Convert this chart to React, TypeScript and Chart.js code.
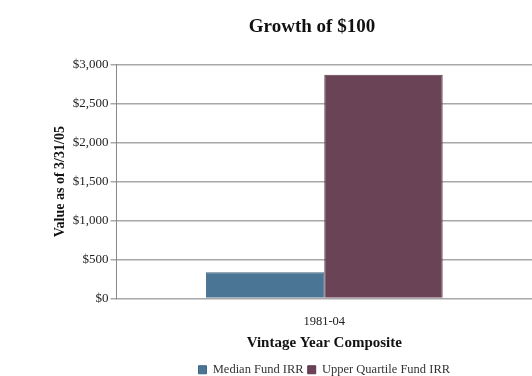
import React, { useEffect, useRef } from "react";
import { Chart, registerables } from "chart.js";

Chart.register(...registerables);

const categories = ["1981-04"];
const seriesNames = ["Median Fund IRR", "Upper Quartile Fund IRR"];
const medianValues = [337];
const upperQuartileValues = [2872];
const yTicks = [0, 500, 1000, 1500, 2000, 2500, 3000];

const FONT = "'Liberation Serif', 'DejaVu Serif', serif";

const titleShift = {
  id: "titleShift",
  afterLayout(chart: any) {
    const t = chart.titleBlock;
    if (t) t.left += 36;
  },
};

export default function App() {
  const ref = useRef<HTMLCanvasElement | null>(null);
  useEffect(() => {
    if (!ref.current) return;
    const chart = new Chart(ref.current, {
      type: "bar",
      data: {
        labels: categories,
        datasets: [
          {
            label: seriesNames[0],
            data: medianValues,
            backgroundColor: "#4b7595",
            borderColor: "#3f6582",
            borderWidth: 1,
          },
          {
            label: seriesNames[1],
            data: upperQuartileValues,
            backgroundColor: "#6b4357",
            borderColor: "#5c384a",
            borderWidth: 1,
          },
        ],
      },
      plugins: [titleShift],
      options: {
        responsive: false,
        animation: false,
        layout: { padding: { left: 52, right: -4, top: 10, bottom: -10 } },
        datasets: {
          bar: { categoryPercentage: 0.57, barPercentage: 1 },
        },
        plugins: {
          title: {
            display: true,
            text: "Growth of $100",
            color: "#111",
            font: { family: FONT, size: 19, weight: "bold" },
            padding: { top: 6, bottom: 26 },
          },
          legend: {
            position: "bottom",
            fullSize: false,
            labels: {
              color: "#333",
              font: { family: FONT, size: 12.5 },
              boxWidth: 8,
              boxHeight: 8,
              padding: 4,
            },
          },
          tooltip: { enabled: false },
        },
        scales: {
          x: {
            grid: { display: false },
            border: { display: false },
            ticks: {
              color: "#222",
              font: { family: FONT, size: 12.5 },
              padding: 8,
            },
            title: {
              display: true,
              text: "Vintage Year Composite",
              color: "#111",
              font: { family: FONT, size: 15, weight: "bold" },
              padding: { top: -3, bottom: 7 },
            },
          },
          y: {
            min: 0,
            max: 3000,
            afterBuildTicks: (axis: any) => {
              axis.ticks = yTicks.map((v) => ({ value: v }));
            },
            grid: {
              color: "#a8a8a8",
              lineWidth: 1.5,
              drawTicks: true,
              tickLength: 6,
            },
            border: { display: true, color: "#888", width: 1 },
            ticks: {
              color: "#222",
              font: { family: FONT, size: 13 },
              padding: 2,
              callback: (v: any) => "$" + Number(v).toLocaleString("en-US"),
            },
            title: {
              display: true,
              text: "Value as of 3/31/05",
              color: "#111",
              font: { family: FONT, size: 14, weight: "bold" },
              padding: { top: 0, bottom: 2 },
            },
          },
        },
      },
    });
    return () => chart.destroy();
  }, []);
  return (
    <div style={{ position: "absolute", left: 0, top: 0, width: 532, height: 376, background: "#fff" }}>
      <canvas ref={ref} width={532} height={376} style={{ display: "block" }} />
    </div>
  );
}
